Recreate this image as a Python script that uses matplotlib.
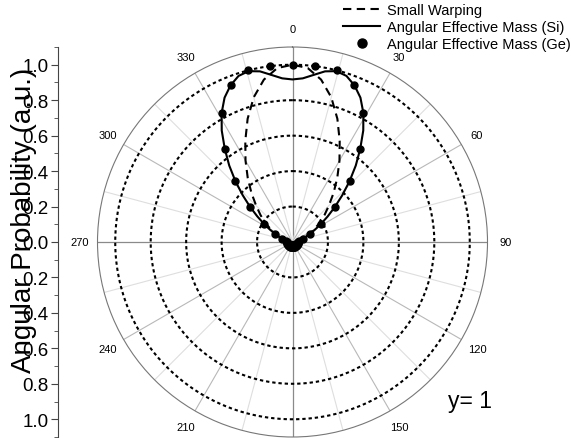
import numpy as np
import matplotlib.pyplot as plt
from matplotlib.ticker import FuncFormatter, MultipleLocator

plt.rcParams["font.family"] = ["Liberation Sans", "DejaVu Sans"]

# Small Warping (dashed), angle in degrees from the top, clockwise
warp_theta = [-90, -85, -80, -75, -70, -65, -60, -55, -50, -45, -40, -35, -30, -25,
              -20, -15, -10, -5, 0, 5, 10, 15, 20, 25, 30, 35, 40, 45, 50, 55, 60,
              65, 70, 75, 80, 85, 90]
warp_r = [0.0, 0.015, 0.03, 0.05, 0.075, 0.105, 0.14, 0.185, 0.235, 0.29, 0.36, 0.44,
          0.53, 0.63, 0.74, 0.845, 0.93, 0.985, 1.0, 0.985, 0.93, 0.845, 0.74, 0.63,
          0.53, 0.44, 0.36, 0.29, 0.235, 0.185, 0.14, 0.105, 0.075, 0.05, 0.03, 0.015,
          0.0]

# Angular Effective Mass (Si), solid line
si_theta = [-90, -86.4, -82.8, -79.2, -75.6, -72, -68.4, -64.8, -61.2, -57.6, -54,
            -50.4, -46.8, -43.2, -39.6, -36, -32.4, -28.8, -25.2, -21.6, -18, -14.4,
            -10.8, -7.2, -3.6, 0, 3.6, 7.2, 10.8, 14.4, 18, 21.6, 25.2, 28.8, 32.4, 36,
            39.6, 43.2, 46.8, 50.4, 54, 57.6, 61.2, 64.8, 68.4, 72, 75.6, 79.2, 82.8,
            86.4, 90]
si_r = [0.0, 0.005, 0.01, 0.02, 0.035, 0.055, 0.08, 0.11, 0.145, 0.19, 0.245, 0.31,
        0.385, 0.47, 0.56, 0.65, 0.745, 0.83, 0.9, 0.95, 0.985, 0.995, 0.98, 0.95,
        0.925, 0.917, 0.925, 0.95, 0.98, 0.995, 0.985, 0.95, 0.9, 0.83, 0.745, 0.65,
        0.56, 0.47, 0.385, 0.31, 0.245, 0.19, 0.145, 0.11, 0.08, 0.055, 0.035, 0.02,
        0.01, 0.005, 0.0]

# Angular Effective Mass (Ge), points
ge_theta = np.arange(0, 360, 7.2)
ge_r = [1.0, 1.0, 1.0, 0.95, 0.83, 0.65, 0.47, 0.31, 0.19, 0.11, 0.06, 0.04, 0.03,
        0.03, 0.03, 0.03, 0.03, 0.03, 0.03, 0.03, 0.03, 0.03, 0.03, 0.03, 0.03,
        0.03, 0.03, 0.03, 0.03, 0.03, 0.03, 0.03, 0.03, 0.03, 0.03, 0.03, 0.03,
        0.03, 0.03, 0.04, 0.06, 0.11, 0.19, 0.31, 0.47, 0.65, 0.83, 0.95, 1.0, 1.0]

angle_ticks = [0, 30, 60, 90, 120, 150, 180, 210, 240, 270, 300, 330]
angle_labels = ["0", "30", "60", "90", "120", "150", "", "210", "240", "270", "300", "330"]
ring_values = [0.2, 0.4, 0.6, 0.8, 1.0]

W, H = 571, 439
fig = plt.figure(figsize=(W / 100, H / 100), dpi=100)

# polar panel
cx, cy, rad = 292.5, 243, 195
ax = fig.add_axes([(cx - rad) / W, (H - cy - rad) / H, 2 * rad / W, 2 * rad / H],
                  projection="polar")
ax.set_theta_zero_location("N")
ax.set_theta_direction(-1)
ax.set_rlim(0, 1.1)
ax.grid(False)

# spokes
for a in range(0, 360, 15):
    if a % 90 == 0:
        c, lw = "#8a8a8a", 0.9
    elif a % 30 == 0:
        c, lw = "#b8b8b8", 0.8
    else:
        c, lw = "#dedede", 0.8
    ax.plot([np.radians(a)] * 2, [0, 1.1], color=c, lw=lw, zorder=1)

# dotted rings
ring_t = np.linspace(0, 2 * np.pi, 400)
for rv in ring_values:
    ax.plot(ring_t, np.full_like(ring_t, rv), color="black", lw=1.5,
            linestyle=(0, (1.6, 1.4)), zorder=2)

ax.set_yticks([])
ax.set_thetagrids(angle_ticks, angle_labels, fontsize=8)
ax.tick_params(axis="x", pad=3, direction="inout", length=6, color="#444444")
ax.spines["polar"].set_color("#777777")
ax.spines["polar"].set_linewidth(0.8)

l1, = ax.plot(np.radians(warp_theta), warp_r, color="black", lw=1.5,
              linestyle=(0, (4, 2.6)), zorder=3, label="Small Warping")
l2, = ax.plot(np.radians(si_theta), si_r, color="black", lw=1.5, zorder=4,
              label="Angular Effective Mass (Si)")
l3, = ax.plot(np.radians(ge_theta), ge_r, "o", color="black", ms=5, zorder=5,
              label="Angular Effective Mass (Ge)")

# left linear scale
ax2 = fig.add_axes([58 / W, (H - cy - rad) / H, 0.001, 2 * rad / H])
ax2.set_ylim(-1.1, 1.1)
ax2.patch.set_visible(False)
for s in ["top", "right", "bottom"]:
    ax2.spines[s].set_visible(False)
ax2.spines["left"].set_color("#444444")
ax2.set_xticks([])
ax2.yaxis.set_major_locator(MultipleLocator(0.2))
ax2.yaxis.set_minor_locator(MultipleLocator(0.1))
ax2.yaxis.set_major_formatter(FuncFormatter(lambda v, p: f"{abs(v):.1f}"))
ax2.tick_params(axis="y", which="major", length=5, labelsize=13.5, pad=2, color="#444444")
ax2.tick_params(axis="y", which="minor", length=3, color="#444444")
ax2.set_ylabel("Angular Probability (a.u.)", fontsize=20)
ax2.yaxis.set_label_coords(31 / W, 1 - 220 / H, transform=fig.transFigure)
ax2.yaxis.label.set_va("baseline")

fig.legend(handles=[l1, l2, l3], loc="upper left", bbox_to_anchor=(343 / W, 1 - 4 / H),
           frameon=False, fontsize=10.5, handlelength=2.55, handletextpad=0.45,
           labelspacing=0.22, borderpad=0, borderaxespad=0, markerscale=1.3)

fig.text(448 / W, 1 - 408 / H, "y= 1", fontsize=16.5, va="baseline", ha="left")

fig.savefig("out.png", dpi=100)
